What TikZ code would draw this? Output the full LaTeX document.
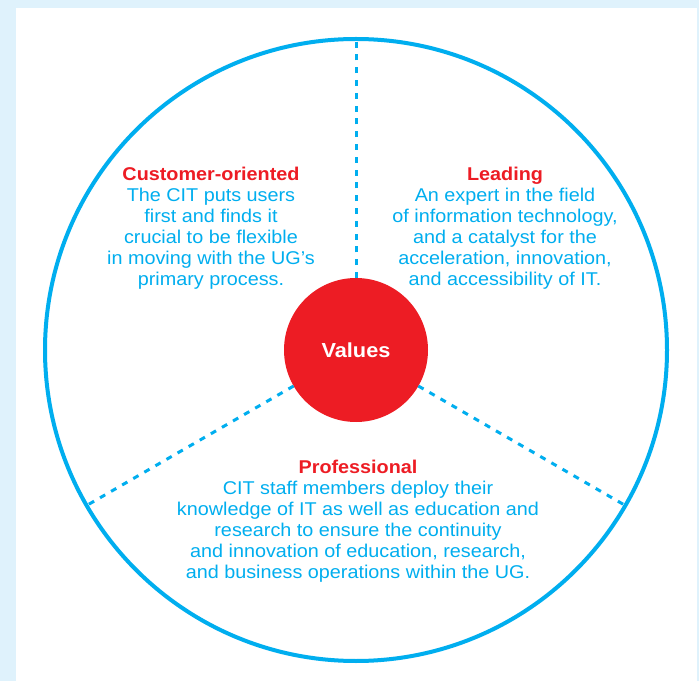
\documentclass[tikz,border=0pt]{standalone}
\usepackage{fontspec}
\setmainfont{Liberation Sans}[FakeStretch=1.07]
\usetikzlibrary{positioning}
\definecolor{citblue}{HTML}{00AEEF}
\definecolor{citred}{HTML}{ED1C24}
\definecolor{panelbg}{HTML}{DFF2FC}

\begin{document}
\begin{tikzpicture}[x=1pt,y=1pt,
	ring/.style={circle,draw=citblue,line width=4pt,minimum size=622pt,inner sep=0pt,outer sep=0pt},
	hub/.style={circle,fill=citred,minimum size=144pt,inner sep=0pt,outer sep=0pt,text=white,font=\fontsize{20.3}{24}\selectfont\bfseries},
	spoke/.style={citblue,line width=3pt,dash pattern=on 6pt off 6.8pt},
	value/.style={align=center,text=citblue,inner sep=0pt,anchor=north,font=\fontsize{18.5}{21}\selectfont}]
	\fill[panelbg] (0,0) rectangle (699,681);
	\fill[white] (16,0) rectangle (697,673);
	\node[ring] (ring) at (356,331) {};
	\node[hub] (values) at (356,331) {Values};
	\draw[spoke] (values.90) -- (ring.90);
	\draw[spoke] (values.210) -- (ring.210);
	\draw[spoke] (values.330) -- (ring.330);
	\node[value] (customer) at (211,514.5) {\textcolor{citred}{\bfseries Customer-oriented}\\The CIT puts users\\first and finds it\\crucial to be flexible\\in moving with the UG’s\\primary process.};
	\node[value] (leading) at (505,514.5) {\textcolor{citred}{\bfseries Leading}\\An expert in the field\\of information technology,\\and a catalyst for the\\acceleration, innovation,\\and accessibility of IT.};
	\node[value] (professional) at (358,221.5) {\textcolor{citred}{\bfseries Professional}\\CIT staff members deploy their\\knowledge of IT as well as education and\\research to ensure the continuity\\and innovation of education, research,\\and business operations within the UG.};
\end{tikzpicture}
\end{document}
